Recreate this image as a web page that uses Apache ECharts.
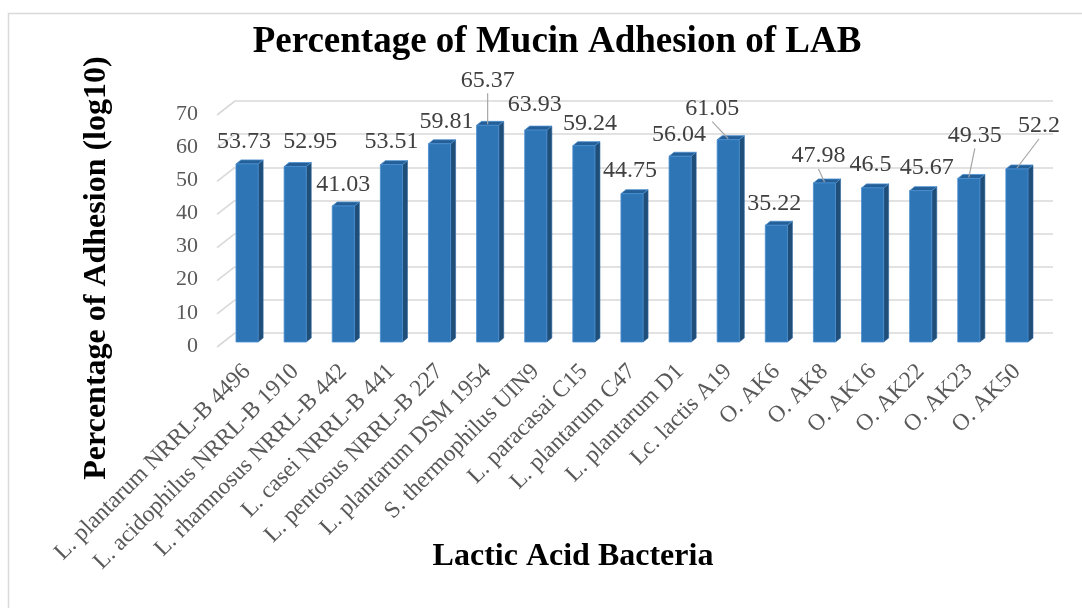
<!DOCTYPE html>
<html>
<head>
<meta charset="utf-8">
<title>Percentage of Mucin Adhesion of LAB</title>
<script src="https://cdn.jsdelivr.net/npm/echarts@6/dist/echarts.min.js"></script>
<style>
html, body { margin: 0; padding: 0; background: #fff; }
#chart { width: 1082px; height: 608px; }
</style>
</head>
<body>
<div id="chart"></div>
<script>
// strains on the x axis
const strains = [
    'L. plantarum NRRL-B 4496', 'L. acidophilus NRRL-B 1910', 'L. rhamnosus NRRL-B 442',
    'L. casei NRRL-B 441', 'L. pentosus NRRL-B 227', 'L. plantarum DSM 1954',
    'S. thermophilus UIN9', 'L. paracasai C15', 'L. plantarum C47', 'L. plantarum D1',
    'Lc. lactis A19', 'O. AK6', 'O. AK8', 'O. AK16', 'O. AK22', 'O. AK23', 'O. AK50'
];
// adhesion percentage (log10)
const adhesion = [53.73, 52.95, 41.03, 53.51, 59.81, 65.37, 63.93, 59.24, 44.75, 56.04, 61.05, 35.22, 47.98, 46.5, 45.67, 49.35, 52.2];
const yTicks = [0, 10, 20, 30, 40, 50, 60, 70];

// label nudges (px, relative to bar top) and which labels get a leader line
const labelShift = [[-3, -22], [15, -25], [0, -21], [0, -23], [7, -22], [0, -45], [-1, -25], [6, -22], [-2, -23],
    [-1, -22], [-16, -31], [-2, -22], [-6, -27], [-2, -23], [6, -23], [6, -43], [22, -43]];
const hasLeader = [0, 0, 0, 0, 0, 1, 0, 0, 0, 0, 1, 0, 1, 0, 0, 1, 1];

const serif = '"Liberation Serif", "Times New Roman", serif';
const chart = echarts.init(document.getElementById('chart'));

function drawBar(params, api) {
    const i = api.value(0);
    const v = api.value(1);
    const top = api.coord([i, v]);
    const base = api.coord([i, 0]);
    const half = api.size([1, 0])[0] * 0.23;
    const dx = 5, dy = 4;
    const cx = top[0];
    const l = cx - half, r = cx + half;
    const sh = labelShift[params.dataIndex];
    const lx = cx + sh[0], ly = top[1] + sh[1];
    const kids = [
        { type: 'polygon', shape: { points: [[r, top[1]], [r + dx, top[1] - dy], [r + dx, base[1] - dy], [r, base[1]]] },
          style: { fill: '#1f4e79', stroke: '#2b659e', lineWidth: 0.6 } },
        { type: 'polygon', shape: { points: [[l, top[1]], [l + dx, top[1] - dy], [r + dx, top[1] - dy], [r, top[1]]] },
          style: { fill: '#255f97', stroke: '#4b8fd0', lineWidth: 0.8 } },
        { type: 'rect', shape: { x: l, y: top[1], width: r - l, height: base[1] - top[1] },
          style: { fill: '#2e75b6', stroke: '#4a8ed0', lineWidth: 0.8 } },
        { type: 'text', x: lx, y: ly,
          style: { text: String(v), fill: '#404040', font: '24px ' + serif, align: 'center', verticalAlign: 'middle' } }
    ];
    if (hasLeader[params.dataIndex]) {
        kids.push({ type: 'line', shape: { x1: lx, y1: ly + 13, x2: cx, y2: top[1] - 1 },
            style: { stroke: '#a6a6a6', lineWidth: 1.2 } });
    }
    return { type: 'group', children: kids };
}

function drawDiagonal(params, api) {
    const p = api.coord([0, api.value(1)]);
    const x0 = params.coordSys.x;
    return { type: 'line', shape: { x1: x0 - 6, y1: p[1] + 5, x2: x0 + 12, y2: p[1] - 9 },
        style: { stroke: '#d9d9d9', lineWidth: 1.6 } };
}

const option = {
    backgroundColor: '#fff',
    animation: false,
    title: {
        text: 'Percentage of Mucin Adhesion of LAB',
        left: 552, top: 19, textAlign: 'center',
        textStyle: { fontFamily: serif, fontWeight: 'bold', fontSize: 37, color: '#000' }
    },
    graphic: [
        { type: 'rect', shape: { x: 8.5, y: 13.5, width: 1200, height: 800 }, silent: true,
          style: { fill: 'none', stroke: '#d9d9d9', lineWidth: 1.5 } },
        { type: 'text', x: 97, y: 268, rotation: Math.PI / 2,
          style: { text: 'Percentage of Adhesion (log10)', font: 'bold 32px ' + serif, fill: '#000', align: 'center', verticalAlign: 'middle' } },
        { type: 'text', x: 573, y: 557,
          style: { text: 'Lactic Acid Bacteria', font: 'bold 32px ' + serif, fill: '#000', align: 'center', verticalAlign: 'middle' } }
    ],
    grid: [
        { left: 223, right: 41, top: 110, bottom: 266 },
        { left: 235, right: 29, top: 101, bottom: 275 }
    ],
    xAxis: [
        {
            type: 'category', gridIndex: 0, data: strains,
            axisLine: { show: false }, axisTick: { show: false },
            axisLabel: { rotate: 45, interval: 0, margin: 26, fontFamily: serif, fontSize: 23.5, color: '#595959' }
        },
        { type: 'category', gridIndex: 1, data: strains, show: false }
    ],
    yAxis: [
        {
            type: 'value', gridIndex: 0, min: 0, max: 70, interval: 10,
            axisLine: { show: false }, axisTick: { show: false }, splitLine: { show: false },
            axisLabel: { margin: 25, fontFamily: serif, fontSize: 22, color: '#595959', verticalAlign: 'top', lineHeight: 8 }
        },
        {
            type: 'value', gridIndex: 1, min: 0, max: 70, interval: 10,
            axisLine: { show: false }, axisTick: { show: false }, axisLabel: { show: false },
            splitLine: { show: true, lineStyle: { color: '#d9d9d9', width: 1.6 } }
        }
    ],
    series: [
        {
            type: 'custom', xAxisIndex: 0, yAxisIndex: 0, z: 1, silent: true,
            renderItem: drawDiagonal,
            data: yTicks.map(v => [0, v])
        },
        {
            type: 'custom', xAxisIndex: 0, yAxisIndex: 0, z: 5,
            renderItem: drawBar,
            data: adhesion.map((v, i) => [i, v])
        }
    ]
};

chart.setOption(option);
window.onresize = function () {
    chart.resize();
};
</script>
</body>
</html>
